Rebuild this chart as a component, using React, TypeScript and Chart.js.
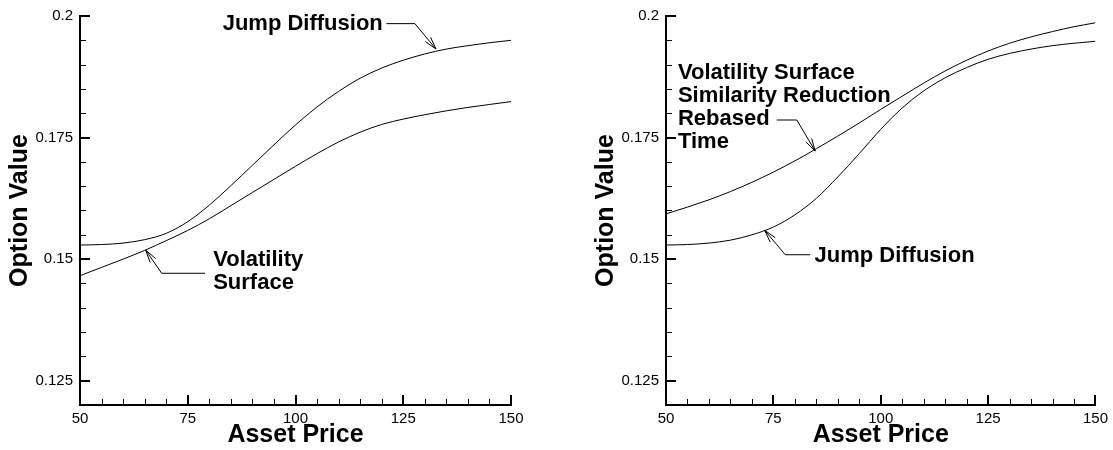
import React, { useEffect, useRef } from "react";
import { Chart, registerables } from "chart.js";

Chart.register(...registerables);

// ---------- data ----------
const assetPrice = [50, 55, 60, 65, 70, 75, 80, 85, 90, 95, 100, 105, 110, 115, 120, 125, 130, 135, 140, 145, 150];

const leftJumpDiffusion = [0.1529, 0.153, 0.1533, 0.154, 0.1553, 0.1577, 0.1611, 0.1651, 0.1693, 0.1735, 0.1776, 0.1813, 0.1845, 0.1872, 0.1893, 0.1909, 0.1922, 0.1932, 0.1939, 0.1945, 0.195];
const leftVolatilitySurface = [0.1466, 0.1483, 0.15, 0.1518, 0.1538, 0.1559, 0.1583, 0.161, 0.1637, 0.1664, 0.1691, 0.1717, 0.1741, 0.1761, 0.1777, 0.1788, 0.1797, 0.1805, 0.1812, 0.1818, 0.1824];

const rightSimilarityReduction = [0.1593, 0.1607, 0.1622, 0.1639, 0.1658, 0.1679, 0.1702, 0.1727, 0.1753, 0.178, 0.1808, 0.1835, 0.1862, 0.1887, 0.1909, 0.1928, 0.1944, 0.1957, 0.1968, 0.1978, 0.1986];
const rightJumpDiffusion = [0.1529, 0.153, 0.1533, 0.1539, 0.155, 0.1566, 0.1591, 0.1625, 0.1669, 0.1717, 0.1767, 0.1811, 0.1846, 0.1873, 0.1894, 0.1911, 0.1923, 0.1932, 0.1939, 0.1944, 0.1948];

const xTickValues = [50, 75, 100, 125, 150];
const yTickValues = [0.125, 0.15, 0.175, 0.2];
const xMin = 50;
const xMax = 150;
const yMin = 0.12;
const yMax = 0.2;
const xMinorStep = 5;
const yMinorStep = 0.005;

const xTitle = "Asset Price";
const yTitle = "Option Value";

type Annotation = {
  lines: string[];
  textAt: [number, number]; // data coords of the first line's left/middle
  leader: [number, number][]; // data coords, last point = arrow tip
};

const leftAnnotations: Annotation[] = [
  { lines: ["Jump Diffusion"], textAt: [83.1, 0.19847], leader: [[121.1, 0.19843], [127.7, 0.19843], [132.6, 0.1932]] },
  { lines: ["Volatility", "Surface"], textAt: [80.9, 0.14988], leader: [[79.0, 0.14709], [68.96, 0.14709], [65.24, 0.15185]] },
];

const rightAnnotations: Annotation[] = [
  {
    lines: ["Volatility Surface", "Similarity Reduction", "Rebased", "Time"],
    textAt: [52.78, 0.18839],
    leader: [[75.8, 0.17861], [80.46, 0.17861], [84.73, 0.17223]],
  },
  { lines: ["Jump Diffusion"], textAt: [84.57, 0.15075], leader: [[83.57, 0.1509], [77.77, 0.1509], [72.97, 0.15593]] },
];

// ---------- styling ----------
const FONT = "'Liberation Sans', Arial, Helvetica, sans-serif";
const LINE_SPACING = 23;

const axesPlugin = {
  id: "tecplotAxes",
  afterDatasetsDraw(chart: any) {
    const { ctx, chartArea, scales } = chart;
    const xs = scales.x;
    const ys = scales.y;
    const { left, right, top, bottom } = chartArea;
    ctx.save();
    ctx.strokeStyle = "#000";
    // minor ticks
    ctx.lineWidth = 1;
    ctx.beginPath();
    for (let v = xMin; v <= xMax + 1e-9; v += xMinorStep) {
      if (xTickValues.some((t) => Math.abs(t - v) < 1e-9)) continue;
      const px = Math.round(xs.getPixelForValue(v)) + 0.5;
      ctx.moveTo(px, bottom);
      ctx.lineTo(px, bottom - 6);
    }
    for (let v = yMin; v <= yMax + 1e-9; v += yMinorStep) {
      if (yTickValues.some((t) => Math.abs(t - v) < 1e-9)) continue;
      if (Math.abs(v - yMin) < 1e-9) continue;
      const py = Math.round(ys.getPixelForValue(v)) + 0.5;
      ctx.moveTo(left, py);
      ctx.lineTo(left + 6, py);
    }
    ctx.stroke();
    // major ticks
    ctx.lineWidth = 2;
    ctx.beginPath();
    xTickValues.forEach((v) => {
      const px = Math.round(xs.getPixelForValue(v));
      ctx.moveTo(px, bottom);
      ctx.lineTo(px, bottom - 10);
    });
    yTickValues.forEach((v) => {
      const py = Math.round(ys.getPixelForValue(v));
      ctx.moveTo(left, py);
      ctx.lineTo(left + 10, py);
    });
    ctx.stroke();
    // axis lines
    ctx.lineWidth = 2;
    ctx.lineCap = "square";
    ctx.beginPath();
    ctx.moveTo(Math.round(left), Math.round(top));
    ctx.lineTo(Math.round(left), Math.round(bottom));
    ctx.lineTo(Math.round(right), Math.round(bottom));
    ctx.stroke();
    ctx.restore();
  },
};

const annotationPlugin = {
  id: "leaderAnnotations",
  afterDatasetsDraw(chart: any, _args: any, opts: any) {
    const list: Annotation[] = opts.items || [];
    const { ctx, scales } = chart;
    const xs = scales.x;
    const ys = scales.y;
    ctx.save();
    list.forEach((a) => {
      const pts = a.leader.map(([x, y]) => [xs.getPixelForValue(x), ys.getPixelForValue(y)]);
      ctx.strokeStyle = "#000";
      ctx.lineWidth = 1;
      ctx.beginPath();
      pts.forEach(([x, y], i) => (i === 0 ? ctx.moveTo(x, y) : ctx.lineTo(x, y)));
      ctx.stroke();
      // open arrowhead
      const [tx, ty] = pts[pts.length - 1];
      const [px, py] = pts[pts.length - 2];
      const ang = Math.atan2(py - ty, px - tx);
      const len = 13;
      const spread = 0.26;
      ctx.beginPath();
      ctx.moveTo(tx + len * Math.cos(ang + spread), ty + len * Math.sin(ang + spread));
      ctx.lineTo(tx, ty);
      ctx.lineTo(tx + len * Math.cos(ang - spread), ty + len * Math.sin(ang - spread));
      ctx.stroke();
      // text
      ctx.fillStyle = "#000";
      ctx.font = `bold 22px ${FONT}`;
      ctx.textAlign = "left";
      ctx.textBaseline = "middle";
      const x0 = xs.getPixelForValue(a.textAt[0]);
      const y0 = ys.getPixelForValue(a.textAt[1]);
      a.lines.forEach((line, i) => ctx.fillText(line, x0, y0 + i * LINE_SPACING));
    });
    ctx.restore();
  },
};

type PanelProps = {
  left: number;
  width: number;
  rightPad: number;
  seriesA: number[];
  seriesB: number[];
  annotations: Annotation[];
};

function Panel({ left, width, rightPad, seriesA, seriesB, annotations }: PanelProps) {
  const ref = useRef<HTMLCanvasElement>(null);
  useEffect(() => {
    if (!ref.current) return;
    const toPoints = (ys: number[]) => assetPrice.map((x, i) => ({ x, y: ys[i] }));
    const lineStyle = {
      borderColor: "#000",
      borderWidth: 1,
      pointRadius: 0,
      showLine: true,
      fill: false,
      tension: 0.33,
    };
    const chart = new Chart(ref.current, {
      type: "scatter",
      data: {
        datasets: [
          { data: toPoints(seriesA), ...lineStyle },
          { data: toPoints(seriesB), ...lineStyle },
        ],
      },
      options: {
        animation: false,
        responsive: false,
        devicePixelRatio: 1,
        layout: { padding: { top: 13, right: rightPad, left: 0, bottom: 0 } },
        plugins: {
          legend: { display: false },
          tooltip: { enabled: false },
          leaderAnnotations: { items: annotations },
        } as any,
        scales: {
          x: {
            type: "linear",
            min: xMin,
            max: xMax,
            grid: { display: false, drawTicks: false },
            border: { display: false },
            afterBuildTicks: (s: any) => {
              s.ticks = xTickValues.map((v) => ({ value: v }));
            },
            afterFit: (s: any) => {
              s.height = 45;
            },
            ticks: {
              color: "#000",
              font: { family: FONT, size: 15 },
              padding: 5,
              maxRotation: 0,
              autoSkip: false,
              callback: (v: any) => String(v),
            },
            title: {
              display: true,
              text: xTitle,
              color: "#000",
              font: { family: FONT, size: 25, weight: "bold" },
              padding: { top: 0, bottom: 0 },
            },
          },
          y: {
            type: "linear",
            min: yMin,
            max: yMax,
            grid: { display: false, drawTicks: false },
            border: { display: false },
            afterBuildTicks: (s: any) => {
              s.ticks = yTickValues.map((v) => ({ value: v }));
            },
            afterFit: (s: any) => {
              s.width = 80;
            },
            ticks: {
              color: "#000",
              font: { family: FONT, size: 15 },
              padding: 7,
              autoSkip: false,
              callback: (v: any) => String(v),
            },
            title: {
              display: true,
              text: yTitle,
              color: "#000",
              font: { family: FONT, size: 25, weight: "bold" },
              padding: { top: 5, bottom: 0 },
            },
          },
        },
      } as any,
      plugins: [axesPlugin, annotationPlugin],
    });
    return () => chart.destroy();
  }, []);
  return (
    <canvas
      ref={ref}
      width={width}
      height={450}
      style={{ position: "absolute", left, top: 0, width, height: 450 }}
    />
  );
}

export default function App() {
  return (
    <div style={{ position: "absolute", left: 0, top: 0, width: 1113, height: 450, background: "#fff", overflow: "hidden" }}>
      <Panel left={0} width={586} rightPad={75} seriesA={leftJumpDiffusion} seriesB={leftVolatilitySurface} annotations={leftAnnotations} />
      <Panel left={586} width={527} rightPad={16} seriesA={rightSimilarityReduction} seriesB={rightJumpDiffusion} annotations={rightAnnotations} />
    </div>
  );
}
